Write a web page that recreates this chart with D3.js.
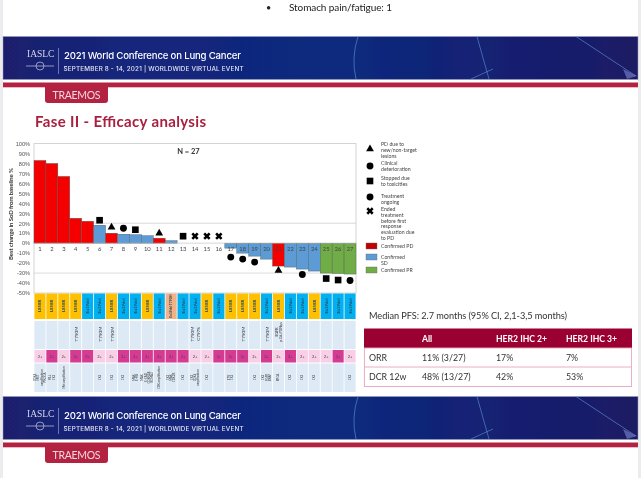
<!DOCTYPE html>
<html><head><meta charset="utf-8">
<script src="https://cdnjs.cloudflare.com/ajax/libs/d3/7.8.5/d3.min.js"></script>
<style>html,body{margin:0;padding:0;background:#fff;overflow:hidden}svg{display:block;font-family:Lato,"Open Sans",sans-serif}</style>
</head><body><svg id="c" width="641" height="478"></svg>
<script>
const patients = d3.range(1, 28);
const changes = [83,80,67,25,22,18,10,9,8.5,7.5,5,2.5,0,0,0,0,-5,-10,-13,-16,-23,-24,-26,-28,-30,-30.5,-31];
const responses = ["PD","PD","PD","PD","PD","SD","PD","SD","SD","SD","PD","SD","SD","SD","SD","SD","SD","SD","SD","SD","PD","SD","SD","SD","PR","PR","PR"];
const markerTypes = [null,null,null,null,null,"square","triangle","circle","square",null,"triangle",null,"square","x","x","x","circle","circle","circle",null,"triangle",null,"circle",null,"square","square","circle"];
const markerValues = [null,null,null,null,null,23,16,15,13.5,null,10,null,7,7,7,7,-14,-16,-19,null,-27.5,null,-31.5,null,-35.5,-37,-37.5];
const mutations = ["L858R","L858R","L858R","L858R","Ex19del","Ex19del","L858R","Ex19del","Ex19del","L858R","Ex19del","Ex19del T790M","Ex19del","Ex19del","L858R","Ex19del","L858R","L858R","L858R","Ex19del","L858R","Ex19del","Ex19del","L858R","Ex19del","Ex19del","Ex19del"];
const resistance = ["","","","T790M","","T790M","T790M","","","","","","","T790M,C797S","","","","T790M","","T790M","EGFR,p.Glu709Lys","","","","","",""];
const ihc = ["2+","3+","2+","3+","3+","2+","2+","3+","3+","3+","3+","3+","3+","2+","2+","3+","3+","3+","2+","3+","2+","3+","2+","2+","2+","3+","2+"];
const comutations = ["CDK4, MET,amplification,PIK3CA","MLL, CK2","Met amplification","","","CK2","CK2","CK2","MAK, E-MS","MAK, E-CAD,CDKN2A,BCMA3","CBK amplification","CK2, MAK,CDK2B","CK2","CK2, CDK4,amplification","CK2","","ETV, CK2","","CK2","CK2, FGFR, BRAF","BRCA","CK2","CK2","CK2","","","CK2"];
const yTicks = d3.range(-50, 101, 10);
const legendMarks = [["triangle",["PD due to","new/non-target","lesions"]],["circle",["Clinical","deterioration"]],["square",["Stopped due","to toxicities"]],["circle",["Treatment","ongoing"]],["x",["Ended","treatment","before first","response","evaluation due","to PD"]]];
const legendBars = [["PD",["Confirmed PD"]],["SD",["Confirmed","SD"]],["PR",["Confirmed PR"]]];
const tableHead = ["","All","HER2 IHC 2+","HER2 IHC 3+"];
const tableRows = [["ORR","11% (3/27)","17%","7%"],["DCR 12w","48% (13/27)","42%","53%"]];

const svg = d3.select("#c");
const defs = svg.append("defs");
const g1 = defs.append("linearGradient").attr("id","ban");
[[0,"#1b1f6d"],[.2,"#14267c"],[.55,"#0e2a7e"],[.8,"#141f70"],[1,"#1c1b64"]].forEach(d=>g1.append("stop").attr("offset",d[0]).attr("stop-color",d[1]));
defs.append("filter").attr("id","soft").append("feGaussianBlur").attr("stdDeviation",0.5);

svg.append("rect").attr("x",0).attr("y",0).attr("width",3).attr("height",478).attr("fill","#ececef");
svg.append("rect").attr("x",638).attr("y",0).attr("width",3).attr("height",478).attr("fill","#ececef");

const root = svg.append("g").attr("filter","url(#soft)");
root.append("text").attr("x",266).attr("y",11).attr("font-size",9).attr("fill","#222").text("•");
root.append("text").attr("x",289).attr("y",11).attr("font-size",10).attr("fill","#222").attr("textLength",103).text("Stomach pain/fatigue: 1");

function banner(y){
  const g = root.append("g").attr("transform",`translate(3,${y})`);
  g.append("rect").attr("x",0).attr("y",-1.5).attr("width",635).attr("height",43).attr("fill","url(#ban)").attr("stroke","#9aa0c0").attr("stroke-width",.5);
  g.append("g").attr("fill","none").attr("stroke","#5f8fd8").attr("stroke-opacity",.7).attr("stroke-width",.9).selectAll("path")
    .data(["M355 -1.5Q348 20 353 41","M474 -1.5Q480 20 486 41","M573 -1.5L633 38","M468 41L490 31"]).join("path").attr("d",d=>d);
  g.append("path").attr("d","M620 31L634 38L624 41Z").attr("fill","#6f78c0").attr("opacity",.7);
  g.append("rect").attr("x",0).attr("y",44.5).attr("width",635).attr("height",4.8).attr("fill","#b3203f");
  g.append("text").attr("x",24).attr("y",19).attr("font-family","Liberation Serif").attr("font-size",9.5).attr("fill","#d5d8ea").text("IASLC");
  g.append("line").attr("x1",23).attr("x2",51).attr("y1",28).attr("y2",28).attr("stroke","#c5c9e0").attr("stroke-width",.7);
  g.append("circle").attr("cx",37).attr("cy",28).attr("r",4).attr("fill","none").attr("stroke","#c5c9e0").attr("stroke-width",.7);
  g.append("line").attr("x1",55.5).attr("x2",55.5).attr("y1",10).attr("y2",36).attr("stroke","#aab0d8").attr("stroke-width",.6);
  g.append("text").attr("x",61).attr("y",21).attr("font-family","Inter").attr("font-size",9.6).attr("font-weight",500).attr("fill","#fff").attr("textLength",177).text("2021 World Conference on Lung Cancer");
  g.append("text").attr("x",60.5).attr("y",32.5).attr("font-family","Inter").attr("font-size",6.3).attr("font-weight",500).attr("fill","#e4e6f2").attr("textLength",180).text("SEPTEMBER 8 - 14, 2021 | WORLDWIDE VIRTUAL EVENT");
  g.append("path").attr("d","M42 49H105V62a3 3 0 0 1-3 3H45a3 3 0 0 1-3-3Z").attr("fill","#b3203f");
  g.append("text").attr("x",73.5).attr("y",60.5).attr("text-anchor","middle").attr("font-size",10.5).attr("fill","#f3d9de").attr("textLength",48).text("TRAEMOS");
}
banner(38); banner(398);

root.append("text").attr("x",35).attr("y",126.5).attr("font-size",15).attr("font-weight",700).attr("fill","#a8203f").attr("textLength",171).text("Fase II - Efficacy analysis");

const x = d3.scaleBand().domain(patients).range([34,356]).padding(0);
const y = d3.scaleLinear().domain([-50,100]).range([293,143.5]);
const colour = {PD:"#f40000",SD:"#5b9bd5",PR:"#70ad47"};

const plot = root.append("g");
plot.append("rect").attr("x",34).attr("y",y(100)).attr("width",322).attr("height",y(-50)-y(100)).attr("fill","none").attr("stroke","#d4d4d4");
plot.selectAll("line.grid").data([20,-30]).join("line").attr("x1",34).attr("x2",356).attr("y1",y).attr("y2",y).attr("stroke","#d0d0d0").attr("stroke-width",.8);

const yAxis = d3.axisLeft(y).tickValues(yTicks).tickSize(0).tickFormat(d=>d+"%");
const ax = plot.append("g").attr("transform","translate(33,0)").call(yAxis);
ax.select(".domain").remove();
ax.selectAll("text").attr("font-size",5.6).attr("fill","#555").attr("x",-3);

plot.append("text").attr("transform",`translate(13,214) rotate(-90)`).attr("text-anchor","middle").attr("font-size",6).attr("font-weight",700).attr("fill","#333").attr("textLength",92).text("Best change in SoD from baseline %");
plot.append("text").attr("x",188.5).attr("y",153.5).attr("text-anchor","middle").attr("font-size",7.5).attr("font-weight",700).attr("fill","#333").text("N = 27");

plot.selectAll("rect.bar").data(patients.filter((p,i)=>changes[i]!==0)).join("rect").attr("class","bar")
  .attr("x",p=>x(p)).attr("width",x.bandwidth())
  .attr("y",p=>y(Math.max(0,changes[p-1]))).attr("height",p=>Math.abs(y(changes[p-1])-y(0)))
  .attr("fill",p=>colour[responses[p-1]]).attr("stroke","#4a5a55").attr("stroke-width",.4);
plot.append("line").attr("x1",34).attr("x2",356).attr("y1",y(0)).attr("y2",y(0)).attr("stroke","#bbb").attr("stroke-width",.6);

plot.selectAll("text.pid").data(patients).join("text").attr("class","pid")
  .attr("x",p=>x(p)+x.bandwidth()/2).attr("y",y(-8.2)).attr("text-anchor","middle").attr("font-size",5.8).attr("fill","#444").text(p=>p);

const sym = {triangle:d3.symbolTriangle,circle:d3.symbolCircle,square:d3.symbolSquare,x:d3.symbolCross};
function marker(sel,type,s){
  const area = type==="square"?s:type==="triangle"?s*.6:type==="x"?s*.75:s*.85;
  sel.attr("d",d3.symbol(sym[type],area)()).attr("fill","#000");
}
patients.forEach((p,i)=>{
  if(!markerTypes[i]) return;
  const m = plot.append("path").attr("transform",`translate(${x(p)+x.bandwidth()/2},${y(markerValues[i])})${markerTypes[i]==="x"?" rotate(45)":""}`);
  marker(m,markerTypes[i],44);
});

const legY = [149,166,181,197,211];
const legTY = [145.7,164.7,180.4,197.7,210.7];
legendMarks.forEach((d,i)=>{
  const m = plot.append("path").attr("transform",`translate(370,${legY[i]})${d[0]==="x"?" rotate(45)":""}`);
  marker(m,d[0],44);
  d[1].forEach((t,j)=>plot.append("text").attr("x",381).attr("y",legTY[i]+j*5.9).attr("font-size",5.2).attr("fill","#444").text(t));
});
const barY = [243,254,267];
const barTY = [248.4,259.4,272];
legendBars.forEach((d,i)=>{
  plot.append("rect").attr("x",366).attr("y",barY[i]).attr("width",11).attr("height",6).attr("fill",d[0]==="PD"?"#c00000":colour[d[0]]).attr("stroke","#6a6a6a").attr("stroke-width",.4);
  d[1].forEach((t,j)=>plot.append("text").attr("x",381).attr("y",barTY[i]+j*5.9).attr("font-size",5.2).attr("fill","#444").text(t));
});

const strip = root.append("g");
const bw = x.bandwidth();
function vtext(g,cx,cy,str,size,fill,weight){
  const parts = str.split(",");
  parts.forEach((t,j)=>{
    g.append("text").attr("transform",`translate(${cx+(j-(parts.length-1)/2)*size*1.15},${cy}) rotate(-90)`)
      .attr("text-anchor","middle").attr("dominant-baseline","central").attr("font-size",size).attr("font-weight",weight||400).attr("fill",fill).text(t);
  });
}
patients.forEach((p,i)=>{
  const cx = x(p)+bw/2, l = x(p)+.4, w = bw-.8;
  const salmon = mutations[i].includes(" ");
  strip.append("rect").attr("x",l).attr("y",293.5).attr("width",w).attr("height",25.5).attr("fill",salmon?"#f4b183":mutations[i]==="L858R"?"#ffc000":"#00b0f0");
  vtext(strip,cx,306,mutations[i],salmon?3.3:4.2,"#244a66",700);
  strip.append("rect").attr("x",l).attr("y",321).attr("width",w).attr("height",28).attr("fill","#dde9f5");
  if(resistance[i]) vtext(strip,cx,resistance[i].length>14?332:334,resistance[i],resistance[i].length>14?3.6:4.6,"#333");
  strip.append("rect").attr("x",l).attr("y",350).attr("width",w).attr("height",12.5).attr("fill",ihc[i]==="3+"?"#d63a94":"#f8cfe6");
  strip.append("text").attr("x",cx).attr("y",357.6).attr("text-anchor","middle").attr("font-size",4).attr("fill","#444").text(ihc[i]);
  strip.append("rect").attr("x",l).attr("y",363.5).attr("width",w).attr("height",28.5).attr("fill","#dde9f5");
  if(comutations[i]) vtext(strip,cx,377.5,comutations[i],2.9,"#333");
});

root.append("text").attr("x",369).attr("y",319).attr("font-size",9.2).attr("fill","#333").attr("textLength",198).text("Median PFS: 2.7 months (95% CI, 2,1-3,5 months)");
const colX = [369,422,496,566];
const tx = d3.scaleOrdinal().domain(d3.range(4)).range(colX);
root.append("rect").attr("x",364).attr("y",328.5).attr("width",268).attr("height",19.5).attr("fill","#9b0033");
root.append("rect").attr("x",364.4).attr("y",348).attr("width",267.2).attr("height",38.5).attr("fill","none").attr("stroke","#e5a5b8").attr("stroke-width",.9);
root.append("line").attr("x1",364).attr("x2",632).attr("y1",367).attr("y2",367).attr("stroke","#e5a5b8").attr("stroke-width",.9);
tableHead.forEach((t,i)=>root.append("text").attr("x",tx(i)).attr("y",341.5).attr("font-size",8.6).attr("font-weight",700).attr("fill","#fff").text(t));
tableRows.forEach((r,j)=>r.forEach((t,i)=>root.append("text").attr("x",tx(i)).attr("y",360.5+j*19).attr("font-size",8.8).attr("fill","#333").text(t)));
</script></body></html>
